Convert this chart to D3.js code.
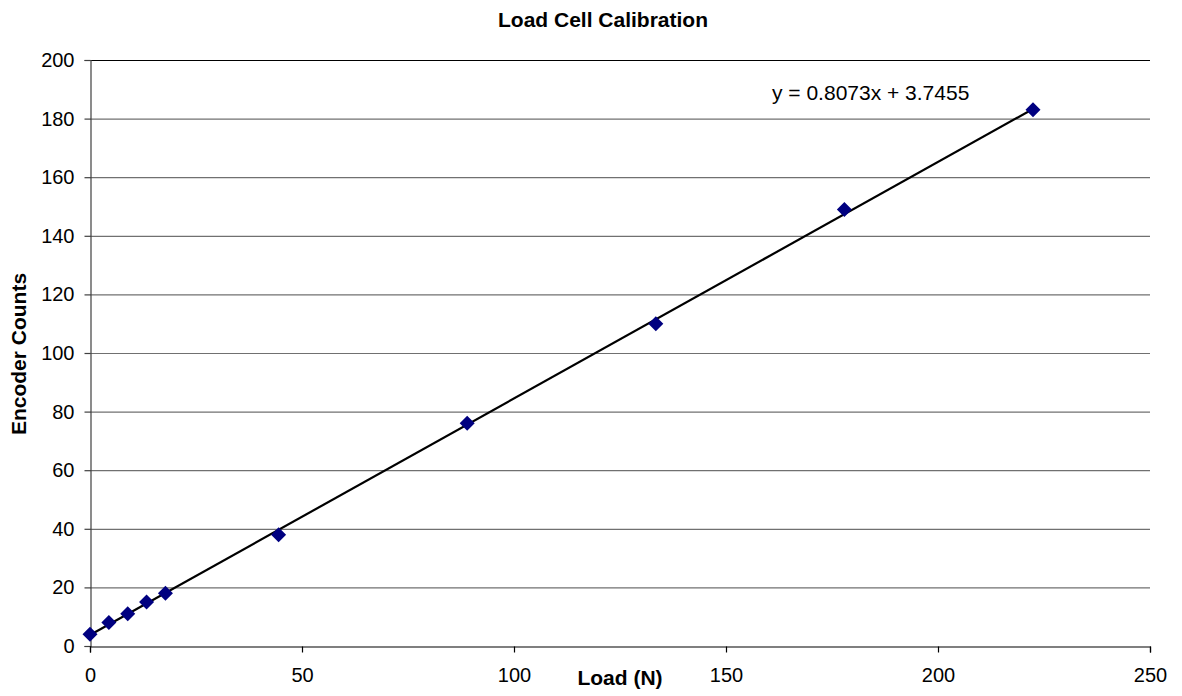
<!DOCTYPE html>
<html>
<head>
<meta charset="utf-8">
<script src="https://cdn.jsdelivr.net/npm/d3@7"></script>
<style>
  html, body { margin: 0; padding: 0; background: #fff; }
  svg { display: block; font-family: "Liberation Sans", Arial, sans-serif; }
</style>
</head>
<body>
<svg id="chart" width="1182" height="696"></svg>
<script>
const loadN = [0, 4.448, 8.896, 13.344, 17.792, 44.48, 88.96, 133.44, 177.92, 222.4];
const counts = [4, 8, 11, 15, 18, 38, 76, 110, 149, 183];
const trendSlope = 0.8073;
const trendIntercept = 3.7455;
const xTicks = [0, 50, 100, 150, 200, 250];
const yTicks = [0, 20, 40, 60, 80, 100, 120, 140, 160, 180, 200];
const titleText = "Load Cell Calibration";
const xTitle = "Load (N)";
const yTitle = "Encoder Counts";
const eqText = "y = 0.8073x + 3.7455";

const svg = d3.select("#chart");
const x = d3.scaleLinear().domain([0, 250]).range([90, 1150]);
const y = d3.scaleLinear().domain([0, 200]).range([646, 60]);

// gridlines
svg.append("g").selectAll("line").data(yTicks.filter(d => d > 0)).join("line")
  .attr("x1", x(0)).attr("x2", x(250))
  .attr("y1", d => y(d) + 0.5).attr("y2", d => y(d) + 0.5)
  .attr("stroke", d => d === 200 ? "#000" : "#707070")
  .attr("stroke-width", 1.2);

// y axis
const yAxis = svg.append("g").attr("transform", `translate(${x(0) + 0.5},0)`)
  .call(d3.axisLeft(y).tickValues(yTicks).tickSize(6).tickPadding(10).tickFormat(d3.format("d")));
yAxis.select(".domain").attr("stroke", "#404040").attr("stroke-width", 1.2);
yAxis.selectAll(".tick line").attr("stroke", "#404040").attr("stroke-width", 1.2);
yAxis.selectAll("text").attr("font-size", 20).attr("fill", "#000")
  .attr("font-family", "Liberation Sans, Arial, sans-serif");

// x axis
const xAxis = svg.append("g").attr("transform", `translate(0,${y(0) + 0.5})`)
  .call(d3.axisBottom(x).tickValues(xTicks).tickSize(6).tickPadding(10).tickFormat(d3.format("d")));
xAxis.select(".domain").attr("stroke", "#000").attr("stroke-width", 1.2);
xAxis.selectAll(".tick line").attr("stroke", "#000").attr("stroke-width", 1.2);
xAxis.selectAll("text").attr("font-size", 20).attr("fill", "#000").attr("dy", "0.95em")
  .attr("font-family", "Liberation Sans, Arial, sans-serif");

// trendline
const x0 = d3.min(loadN), x1 = d3.max(loadN);
svg.append("line")
  .attr("x1", x(x0)).attr("y1", y(trendSlope * x0 + trendIntercept))
  .attr("x2", x(x1)).attr("y2", y(trendSlope * x1 + trendIntercept))
  .attr("stroke", "#000").attr("stroke-width", 2.2);

// markers
const r = 7.5;
svg.append("g").selectAll("path").data(loadN.map((v, i) => [v, counts[i]])).join("path")
  .attr("d", d => `M${x(d[0])},${y(d[1]) - r}L${x(d[0]) + r},${y(d[1])}L${x(d[0])},${y(d[1]) + r}L${x(d[0]) - r},${y(d[1])}Z`)
  .attr("fill", "#000080");

// texts
svg.append("text").attr("x", 603).attr("y", 27).attr("text-anchor", "middle")
  .attr("font-size", 21).attr("font-weight", "bold").text(titleText);
svg.append("text").attr("x", 620).attr("y", 685).attr("text-anchor", "middle")
  .attr("font-size", 21).attr("font-weight", "bold").text(xTitle);
svg.append("text").attr("transform", "translate(26,354) rotate(-90)").attr("text-anchor", "middle")
  .attr("font-size", 21).attr("font-weight", "bold").text(yTitle);
svg.append("text").attr("x", 772).attr("y", 100)
  .attr("font-size", 21).text(eqText);
</script>
</body>
</html>
